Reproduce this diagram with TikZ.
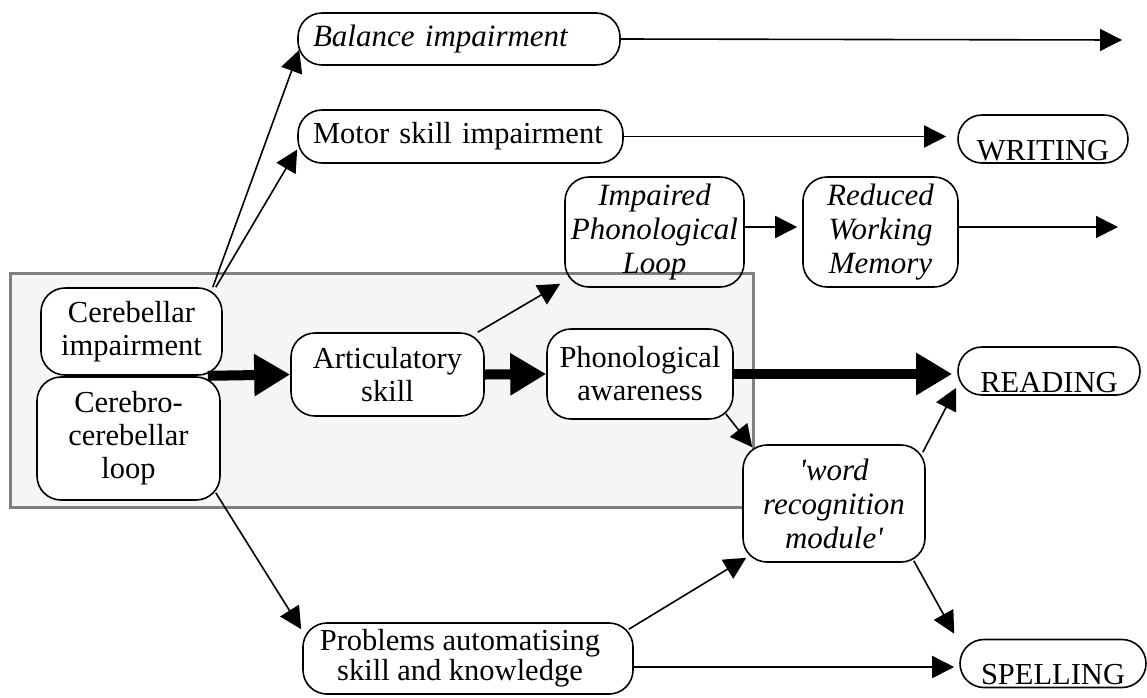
\documentclass[tikz,border=0pt]{standalone}
\usepackage{fontspec}
\setmainfont{Liberation Serif}
\usetikzlibrary{arrows.meta}
\definecolor{framegray}{gray}{0.5}
\definecolor{panelgray}{gray}{0.96}

\begin{document}
\begin{tikzpicture}[x=1pt,y=-1pt,
    box/.style={draw,line width=1.6pt,rounded corners=24pt,fill=white,align=center,
      inner sep=2pt,font=\fontsize{30.5}{33}\selectfont},
    ibox/.style={box,font=\fontsize{31}{34}\selectfont\itshape},
    pill/.style={box,minimum width=#1,minimum height=48pt,text height=42pt,text depth=0pt,inner ysep=3pt},
    drop/.style={execute at begin node={\rule{0pt}{#1}}},
    flow/.style={line width=1.6pt,-{Triangle[length=22pt,width=22pt]}},
    bigflow/.style={line width=10pt,-{Triangle[length=36pt,width=40pt]}}]
  \useasboundingbox (0,0) rectangle (1147,697);
  % shaded panel round the cerebellar part
  \draw[framegray,line width=3pt,fill=panelgray] (10,273) rectangle (753,507);

  \node[ibox,minimum width=322pt,minimum height=52pt,text width=292pt,align=left] (bal) at (459,39) {Balance impairment};
  \node[box,minimum width=325pt,minimum height=53pt,text width=295pt,align=left] (mot) at (460.5,136.5) {Motor skill impairment};
  \node[pill=170pt] (wri) at (1043,139) {WRITING};
  \node[ibox,fill=none,drop=37pt,minimum width=179pt,minimum height=110pt] (ipl) at (654.5,232) {Impaired\\Phonological\\Loop};
  \node[ibox,minimum width=155pt,minimum height=110pt] (rwm) at (880.5,232) {Reduced\\Working\\Memory};
  \node[box,drop=36pt,minimum width=181pt,minimum height=87pt] (cer) at (131.5,331.5) {Cerebellar\\impairment};
  \node[box,drop=40pt,minimum width=183pt,minimum height=123pt] (cbl) at (128.5,438.5) {Cerebro-\\cerebellar\\loop};
  \node[box,minimum width=193pt,minimum height=83pt] (art) at (387.5,374.5) {Articulatory\\skill};
  \node[box,minimum width=186pt,minimum height=90pt] (pa) at (640,374) {Phonological\\awareness};
  \node[pill=182pt] (rea) at (1049,371) {READING};
  \node[ibox,minimum width=182pt,minimum height=117pt] (wrm) at (834,503.5) {\textquotesingle word\\recognition\\module\textquotesingle};
  \node[box,minimum width=330pt,minimum height=71pt,font=\fontsize{30.5}{30}\selectfont] (pro) at (468,658.5)
    {Problems automatising\hspace*{16pt}\\skill and knowledge\hspace*{16pt}};
  \node[pill=186pt] (spe) at (1053,663.5) {SPELLING};

  \coordinate (balend) at (1122,40);
  \coordinate (rwmend) at (1118,227);

  \draw[flow] ([xshift=-10pt]cer.north east) -- ([shift={(2pt,-11pt)}]bal.west);
  \draw[flow] ([xshift=-7pt]cer.north east) -- ([yshift=-13pt]mot.west);
  \draw[flow] (bal.east) -- (balend);
  \draw[flow,shorten >=11pt] (mot.east) -- (mot.east -| wri.west);
  \draw[flow,shorten >=5pt] ([yshift=5pt]ipl.east) -- ([yshift=5pt]ipl.east -| rwm.west);
  \draw[flow] ([yshift=5pt]rwm.east) -- (rwmend);
  \draw[flow] ([xshift=-7pt]art.north east) -- ([shift={(-4pt,4pt)}]ipl.south west);
  \draw[bigflow] ([xshift=-15pt]cer.south east) -- (art.west);
  \draw[bigflow] (art.east) -- (pa.west);
  \draw[bigflow,shorten >=5pt] (pa.east) -- (pa.east -| rea.west);
  \draw[flow] ([shift={(-8pt,6pt)}]pa.south east) -- ([shift={(10pt,-3pt)}]wrm.north west);
  \draw[flow] ([shift={(-3pt,-8pt)}]wrm.north east) -- ([shift={(-1pt,8pt)}]rea.south west);
  \draw[flow] ([shift={(-12pt,2pt)}]wrm.south east) -- ([shift={(-5pt,5pt)}]spe.north west);
  \draw[flow] ([shift={(-5pt,8pt)}]cbl.south east) -- ([shift={(-1pt,-7pt)}]pro.north west);
  \draw[flow] ([shift={(-5pt,-7pt)}]pro.north east) -- ([shift={(4pt,5pt)}]wrm.south west);
  \draw[flow,shorten >=5pt] ([yshift=-8.5pt]pro.east) -- ([yshift=-8.5pt]pro.east -| spe.west);
\end{tikzpicture}
\end{document}
